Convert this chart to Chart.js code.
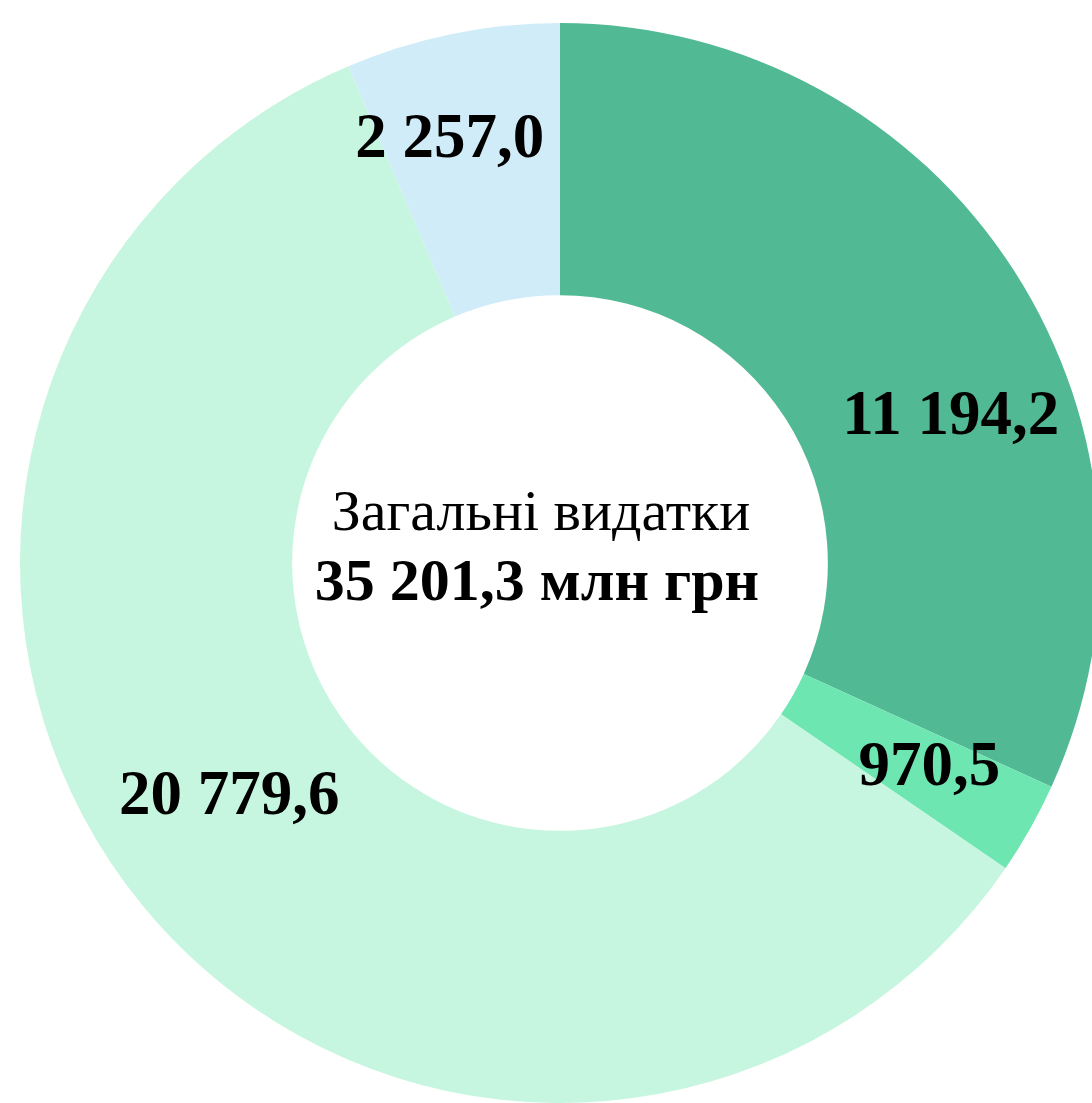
<!DOCTYPE html>
<html>
<head>
<meta charset="utf-8">
<script src="https://cdn.jsdelivr.net/npm/chart.js@4.4.1/dist/chart.umd.min.js"></script>
<style>
    html, body { margin: 0; padding: 0; background: #fff; overflow: hidden; }
    body { width: 1092px; height: 1103px; position: relative; }
    #wrap { position: absolute; left: 20px; top: 23px; width: 1080px; height: 1080px; }
</style>
</head>
<body>
<div id="wrap"><canvas id="ChartVydatky"></canvas></div>
<script>
// дані діаграми
const categories = ['Категорія 1', 'Категорія 2', 'Категорія 3', 'Категорія 4'];
const values = [11194.2, 970.5, 20779.6, 2257.0];
const valueLabels = ['11 194,2', '970,5', '20 779,6', '2 257,0'];
const colors = ['#52b995', '#6ee6b1', '#c6f6df', '#d1ecf9'];
const centerTitle = 'Загальні видатки';
const centerTotal = '35 201,3 млн грн';

// зсув підписів відносно середини сектора (градуси) та відстань від центру (частка радіуса)
const labelShift = [12, -0.7, 4.3, -3];
const labelRadius = [0.774, 0.78, 0.748, 0.813];

const sliceLabels = {
    id: 'sliceLabels',
    afterDatasetsDraw(chart) {
        const {ctx} = chart;
        const meta = chart.getDatasetMeta(0);
        ctx.save();
        ctx.fillStyle = '#000';
        ctx.font = 'bold 63px "Liberation Serif", "Times New Roman", serif';
        ctx.textAlign = 'center';
        ctx.textBaseline = 'middle';
        meta.data.forEach((arc, i) => {
            const {x, y, startAngle, endAngle, outerRadius} = arc.getProps(['x', 'y', 'startAngle', 'endAngle', 'outerRadius'], true);
            const mid = (startAngle + endAngle) / 2 + labelShift[i] * Math.PI / 180;
            const r = outerRadius * labelRadius[i];
            ctx.fillText(valueLabels[i], x + Math.cos(mid) * r, y + Math.sin(mid) * r + 3);
        });
        ctx.restore();
    }
};

const centerText = {
    id: 'centerText',
    afterDatasetsDraw(chart) {
        const {ctx} = chart;
        const arc = chart.getDatasetMeta(0).data[0];
        const cx = arc.x, cy = arc.y;
        ctx.save();
        ctx.fillStyle = '#000';
        ctx.textAlign = 'center';
        ctx.textBaseline = 'alphabetic';
        ctx.font = '58px "Liberation Serif", "Times New Roman", serif';
        ctx.fillText(centerTitle, cx - 19, cy - 33);
        ctx.font = 'bold 60px "Liberation Serif", "Times New Roman", serif';
        ctx.fillText(centerTotal, cx - 23, cy + 37);
        ctx.restore();
    }
};

const chart = new Chart(document.getElementById('ChartVydatky'), {
    type: 'doughnut',
    data: {
        labels: categories,
        datasets: [{
            data: values,
            backgroundColor: colors,
            borderWidth: 0,
        }]
    },
    options: {
        responsive: true,
        maintainAspectRatio: false,
        animation: false,
        cutout: '49.6%',
        layout: { padding: 0 },
        plugins: {
            legend: { display: false },
            tooltip: { enabled: false },
        }
    },
    plugins: [sliceLabels, centerText]
});
</script>
</body>
</html>
